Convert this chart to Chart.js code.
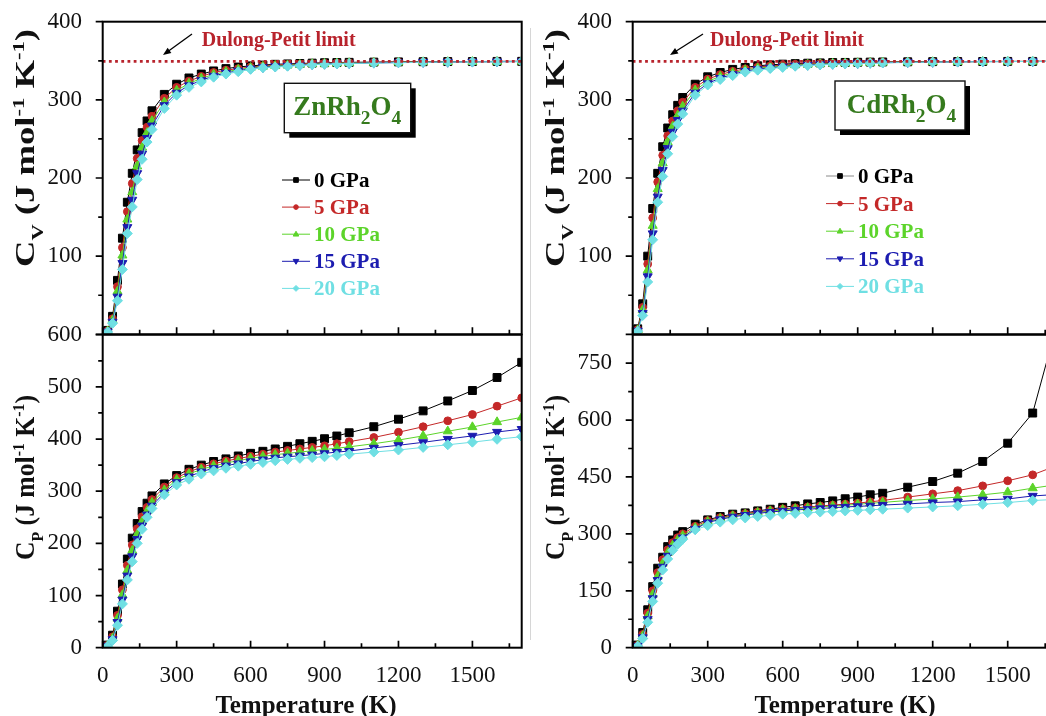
<!DOCTYPE html>
<html>
<head>
<meta charset="utf-8">
<script src="https://cdn.jsdelivr.net/npm/chart.js@4.4.1/dist/chart.umd.min.js"></script>
<style>
  html, body { margin: 0; padding: 0; background: #fff; overflow: hidden; width: 1046px; height: 716px; }
  canvas { position: absolute; }
  #seam { position: absolute; left: 530px; top: 28px; width: 1px; height: 612px; background: #d6d6d6; }
</style>
</head>
<body>
<div id="seam"></div>
<canvas id="cvZn" width="530" height="345" style="left:0;top:0"></canvas>
<canvas id="cpZn" width="530" height="400" style="left:0;top:320px"></canvas>
<canvas id="cvCd" width="540" height="345" style="left:530px;top:0"></canvas>
<canvas id="cpCd" width="540" height="400" style="left:530px;top:320px"></canvas>
<script>
// ---- data -------------------------------------------------------------
const temperatureK = [20, 40, 60, 80, 100, 120, 140, 160, 180, 200, 250, 300, 350, 400, 450, 500,
  550, 600, 650, 700, 750, 800, 850, 900, 950, 1000, 1100, 1200, 1300, 1400, 1500, 1600, 1700];
const pressureLabels = ['0 GPa', '5 GPa', '10 GPa', '15 GPa', '20 GPa'];
const dulongPetitLimit = 349.2;

// ZnRh2O4, heat capacity at constant volume
const cvZn0 = [5, 23, 69, 123, 169, 206, 236, 258, 273, 286, 307, 320, 328, 333, 337, 340, 342, 343.5, 344.5, 345.5, 346, 346.5, 347, 347.5, 347.7, 348, 348.3, 348.6, 348.8, 349, 349, 349.2, 349.3];
const cvZn5 = [4.4, 20, 61, 111, 157, 193, 225, 248, 265, 279, 302, 316, 324, 330, 335, 338, 340, 342, 343.5, 344.5, 345, 345.7, 346.4, 346.9, 347.2, 347.5, 347.9, 348.3, 348.6, 348.8, 348.9, 349.1, 349.2];
const cvZn10 = [3.9, 18, 55, 101, 147, 182, 215, 239, 258, 273, 297, 312, 321, 327.5, 332.6, 336, 338.7, 341, 342.6, 343.6, 344.3, 345.1, 345.9, 346.4, 346.8, 347.2, 347.6, 348, 348.4, 348.6, 348.7, 348.9, 349.1];
const cvZn15 = [3.4, 16, 48, 91, 137, 172, 206, 231, 251, 267, 293, 309, 318.5, 325, 330.6, 334.4, 337.2, 339.9, 341.7, 342.7, 343.6, 344.5, 345.4, 345.9, 346.3, 346.8, 347.3, 347.7, 348.2, 348.4, 348.6, 348.8, 349];
const cvZn20 = [3, 14, 43, 83, 129, 163, 198, 224, 246, 262, 289, 306, 316, 323, 329, 333, 336, 339, 341, 342, 343, 344, 345, 345.5, 346, 346.5, 347, 347.5, 348, 348.3, 348.5, 348.7, 349];

// ZnRh2O4, heat capacity at constant pressure
const cpZn0 = [5, 24, 70, 122, 170, 210, 238, 261, 277, 291, 314, 330, 342, 350, 357, 362, 367.5, 372.6, 376.5, 381, 386, 391, 395.6, 400.6, 405.8, 412, 423.6, 438, 454, 473, 493, 518, 547];
const cpZn5 = [4.4, 21, 62, 111, 158, 197, 228, 251, 269, 284, 308, 326, 337, 346, 352.5, 358, 362.5, 367, 371, 375, 378, 381, 384, 387, 391, 395, 403, 413, 423.6, 435, 447, 463, 479];
const cpZn10 = [3.9, 18, 56, 101, 148, 186, 217, 242, 262, 278, 302, 322, 333, 342, 348.5, 354, 358.5, 363, 366.5, 370, 372.5, 375, 377.5, 380, 382.5, 385, 391, 398, 406, 415, 423, 432.6, 441.6];
const cpZn15 = [3.4, 16, 49, 92, 138, 175, 208, 234, 255, 272, 297, 317, 328, 337.5, 344, 349, 353, 357, 360.5, 364, 366, 368, 370, 372.5, 375, 377, 383, 388, 393.7, 400, 406, 413.5, 419];
const cpZn20 = [3, 14, 43, 84, 130, 165, 200, 227, 250, 267, 293, 312, 323, 333, 339, 344, 348, 351.5, 355, 358.5, 361, 363, 364.5, 366, 368.5, 371, 375, 379, 384, 389, 394, 399.5, 404.5];

// CdRh2O4, heat capacity at constant volume
const cvCd0 = [7, 39, 100, 161, 206, 240, 264, 281, 293, 303, 320, 329.5, 335, 339, 341.5, 343.6, 344.8, 345.7, 346.4, 346.9, 347.3, 347.7, 347.9, 348.1, 348.3, 348.5, 348.7, 348.9, 349, 349.1, 349.2, 349.2, 349.3];
const cvCd5 = [6, 34.5, 90, 149, 195, 229, 254, 273, 286, 297, 316, 326.5, 332.3, 336.6, 339.7, 341.9, 343.4, 344.4, 345.4, 346, 346.5, 347, 347.3, 347.6, 347.9, 348.1, 348.4, 348.7, 348.9, 349, 349.1, 349.2, 349.3];
const cvCd10 = [5.3, 31, 82, 139, 186, 219, 246, 266, 280, 291.5, 312.3, 323.7, 330, 334.6, 338.2, 340.5, 342.2, 343.4, 344.5, 345.3, 345.9, 346.5, 346.9, 347.2, 347.5, 347.8, 348.2, 348.5, 348.7, 348.9, 349.1, 349.1, 349.2];
const cvCd15 = [4.6, 27, 74, 129, 176, 210, 238, 259, 274, 286, 309, 321, 327.8, 332.6, 336.7, 339.1, 341, 342.3, 343.7, 344.6, 345.3, 345.9, 346.4, 346.8, 347.2, 347.5, 348, 348.3, 348.6, 348.9, 349, 349.1, 349.2];
const cvCd20 = [4, 24, 67, 121, 169, 202, 231, 253, 269, 282, 306, 319, 326, 331, 335.5, 338, 340, 341.5, 343, 344, 344.8, 345.5, 346, 346.5, 346.9, 347.3, 347.8, 348.2, 348.5, 348.8, 349, 349.1, 349.2];

// CdRh2O4, heat capacity at constant pressure
const cpCd0 = [7, 40, 100, 161, 209.5, 238.5, 266.5, 284, 297, 306, 325.6, 337, 345.7, 352, 355.4, 360.7, 365, 370, 374, 379, 382.7, 387, 392.6, 397, 403, 407, 423, 438, 460, 491, 539, 618.5, 860];
const cpCd5 = [6, 35, 91, 150, 198, 232, 258, 277, 290, 300, 320, 335, 343, 349, 353.5, 358, 362, 366, 368.5, 371, 373.5, 376, 378.5, 381, 384.5, 388, 397, 405.5, 414, 426.6, 440, 455.7, 481];
const cpCd10 = [5.3, 31, 83, 140, 188, 222, 250, 270, 284, 295, 316, 332, 340, 347, 351.5, 356, 360, 363.5, 366, 368.5, 371, 373.5, 375.5, 378, 380.5, 383, 388, 392, 397, 403, 410, 420.5, 430];
const cpCd15 = [4.6, 27, 75, 130, 178, 213, 242, 263, 278, 290, 313, 330, 338, 345, 349.5, 354, 357.5, 360.5, 363, 365, 367, 369, 371, 372.5, 374, 376, 379, 382.6, 385, 389.7, 392, 400, 404];
const cpCd20 = [4, 24, 67, 122, 170, 205, 234, 257, 273, 286, 311, 322, 331, 337, 342, 346, 349, 352, 354, 356, 357.5, 359, 360.5, 362, 363.5, 365, 368, 371, 374, 378, 382.6, 388, 391];

// axis ticks
const tempMax = 1700;
const xMajorTicks = [0, 300, 600, 900, 1200, 1500];
const xMinorTicks = [150, 450, 750, 1050, 1350, 1650];
const cvMajorTicks = [0, 100, 200, 300, 400];
const cvMinorTicks = [50, 150, 250, 350];
const cpZnMajorTicks = [0, 100, 200, 300, 400, 500, 600];
const cpZnMinorTicks = [50, 150, 250, 350, 450, 550];
const cpCdMajorTicks = [0, 150, 300, 450, 600, 750];
const cpCdMinorTicks = [75, 225, 375, 525, 675];

// ---- styling ----------------------------------------------------------
const SERIF = '"Liberation Serif", "Times New Roman", serif';
const seriesStyles = [
  { color: '#000000', pointStyle: 'rect',     radius: 5.6, rotation: 0,   mark: 'square'  },
  { color: '#c42828', pointStyle: 'circle',   radius: 3.9, rotation: 0,   mark: 'circle'  },
  { color: '#5cd42a', pointStyle: 'triangle', radius: 5.2, rotation: 0,   mark: 'up'      },
  { color: '#1c1cb0', pointStyle: 'triangle', radius: 5.2, rotation: 180, mark: 'down'    },
  { color: '#6fdfe3', pointStyle: 'rectRot',  radius: 5.0, rotation: 0,   mark: 'diamond' }
];
const limitColor = '#b8232c';
const compoundColor = '#357a1d';

function drawMarker(ctx, mark, x, y, s, color) {
  ctx.fillStyle = color; ctx.strokeStyle = color; ctx.lineWidth = 1;
  ctx.beginPath();
  if (mark === 'square') ctx.rect(x - 3 * s, y - 3 * s, 6 * s, 6 * s);
  else if (mark === 'circle') ctx.arc(x, y, 3 * s, 0, Math.PI * 2);
  else if (mark === 'up') { ctx.moveTo(x, y - 3.8 * s); ctx.lineTo(x + 3.6 * s, y + 2.4 * s); ctx.lineTo(x - 3.6 * s, y + 2.4 * s); ctx.closePath(); }
  else if (mark === 'down') { ctx.moveTo(x, y + 3.8 * s); ctx.lineTo(x + 3.6 * s, y - 2.4 * s); ctx.lineTo(x - 3.6 * s, y - 2.4 * s); ctx.closePath(); }
  else { ctx.moveTo(x, y - 3.8 * s); ctx.lineTo(x + 3.8 * s, y); ctx.lineTo(x, y + 3.8 * s); ctx.lineTo(x - 3.8 * s, y); ctx.closePath(); }
  ctx.fill(); ctx.stroke();
}

// text made of runs; k = 'sub' | 'sup' for shifted, smaller runs
function drawRich(ctx, parts, x, y, size, measureOnly, subScale) {
  let cx = x;
  const ss = subScale || 0.62;
  parts.forEach(p => {
    const s = p.k ? size * ss : size;
    ctx.font = 'bold ' + s + 'px ' + SERIF;
    const dy = p.k === 'sub' ? size * 0.32 : (p.k === 'sup' ? -size * 0.36 : 0);
    if (!measureOnly) ctx.fillText(p.t, cx, y + dy);
    cx += ctx.measureText(p.t).width;
  });
  return cx - x;
}

function yTitleParts(sym) {
  return [{ t: 'C' }, { t: sym, k: 'sub' }, { t: ' (J mol' }, { t: '-1', k: 'sup' }, { t: ' K' }, { t: '-1', k: 'sup' }, { t: ')' }];
}

function makeDecor(cfg) {
  return {
    id: 'panelDecor',
    afterDatasetsDraw(chart) {
      const ctx = chart.ctx, a = chart.chartArea, xs = chart.scales.x, ys = chart.scales.y;
      ctx.save();
      // frame
      ctx.strokeStyle = '#000'; ctx.lineWidth = 2;
      ctx.strokeRect(a.left, a.top, a.right - a.left, a.bottom - a.top);
      // ticks: inward on the temperature axis, outward on the value axis
      ctx.lineWidth = 1.7;
      ctx.beginPath();
      const xt = (vals, len) => vals.forEach(v => { const p = xs.getPixelForValue(v); ctx.moveTo(p, a.bottom); ctx.lineTo(p, a.bottom - len); });
      const yt = (vals, len) => vals.forEach(v => { const p = ys.getPixelForValue(v); ctx.moveTo(a.left, p); ctx.lineTo(a.left - len, p); });
      xt(xMajorTicks, 7); xt(xMinorTicks, 4.5);
      yt(cfg.yMajor, 7); yt(cfg.yMinor, 4.5);
      ctx.stroke();

      // value-axis title, rotated
      ctx.fillStyle = '#111';
      ctx.textBaseline = 'alphabetic'; ctx.textAlign = 'left';
      const ts = 27;
      const parts = yTitleParts(cfg.ySym);
      const w = drawRich(ctx, parts, 0, 0, ts, true);
      ctx.save();
      ctx.translate(34, cfg.yTitleY);
      ctx.rotate(-Math.PI / 2);
      ctx.scale(cfg.yTitleLen / w, 1);
      drawRich(ctx, parts, -w / 2, 0, ts, false);
      ctx.restore();

      // temperature-axis title
      if (cfg.xTitle) {
        ctx.font = 'bold 25px ' + SERIF;
        ctx.textAlign = 'center';
        ctx.fillText('Temperature (K)', cfg.xTitleX, 393);
        ctx.textAlign = 'left';
      }

      if (cfg.legend) {
        const L = cfg.legend;
        // Dulong-Petit label and arrow
        ctx.fillStyle = limitColor;
        ctx.font = 'bold 20px ' + SERIF;
        ctx.fillText('Dulong-Petit limit', L.dpX, 46);
        ctx.strokeStyle = '#000'; ctx.fillStyle = '#000'; ctx.lineWidth = 1.3;
        const [x0, y0, x1, y1] = L.arrow;
        const ang = Math.atan2(y1 - y0, x1 - x0);
        ctx.beginPath(); ctx.moveTo(x0, y0); ctx.lineTo(x1 - 6 * Math.cos(ang), y1 - 6 * Math.sin(ang)); ctx.stroke();
        ctx.beginPath();
        ctx.moveTo(x1, y1);
        ctx.lineTo(x1 - 8 * Math.cos(ang) + 3.2 * Math.sin(ang), y1 - 8 * Math.sin(ang) - 3.2 * Math.cos(ang));
        ctx.lineTo(x1 - 8 * Math.cos(ang) - 3.2 * Math.sin(ang), y1 - 8 * Math.sin(ang) + 3.2 * Math.cos(ang));
        ctx.closePath(); ctx.fill();

        // compound box with drop shadow
        const [bx, by, bw, bh] = L.box;
        ctx.fillStyle = '#000';
        ctx.fillRect(bx + 5, by + 5, bw, bh);
        ctx.fillStyle = '#fff';
        ctx.fillRect(bx, by, bw, bh);
        ctx.strokeStyle = '#111'; ctx.lineWidth = 1.4;
        ctx.strokeRect(bx, by, bw, bh);
        ctx.fillStyle = compoundColor;
        drawRich(ctx, [{ t: L.compound[0] }, { t: '2', k: 'sub' }, { t: 'O' }, { t: '4', k: 'sub' }], L.compoundX, by + 32, 27, false, 0.72);

        // series key
        pressureLabels.forEach((lab, i) => {
          const st = seriesStyles[i];
          const ry = L.rowY + i * L.rowStep;
          ctx.strokeStyle = (i === 0 && L.firstLine) ? L.firstLine : st.color;
          ctx.lineWidth = 1;
          ctx.beginPath(); ctx.moveTo(L.symX, ry); ctx.lineTo(L.symX + 28, ry); ctx.stroke();
          drawMarker(ctx, st.mark, L.symX + 14, ry, 0.78, st.color);
          ctx.fillStyle = st.color;
          ctx.font = 'bold 21px ' + SERIF;
          ctx.fillText(lab, L.symX + 32, ry + 7);
        });
      }
      ctx.restore();
    }
  };
}

function seriesSets(arrays, withLimit) {
  const sets = arrays.map((vals, i) => {
    const st = seriesStyles[i];
    return {
      label: pressureLabels[i],
      data: temperatureK.map((t, j) => ({ x: t, y: vals[j] })),
      borderColor: st.color, backgroundColor: st.color,
      borderWidth: 1, tension: 0,
      pointStyle: st.pointStyle, pointRadius: st.radius, pointRotation: st.rotation,
      pointBorderWidth: 1, pointBorderColor: st.color, pointBackgroundColor: st.color,
      order: 4 - i
    };
  });
  if (withLimit) {
    sets.push({
      label: 'Dulong-Petit limit',
      data: [{ x: 0, y: dulongPetitLimit }, { x: tempMax, y: dulongPetitLimit }],
      borderColor: limitColor, borderWidth: 2.8, borderDash: [2.8, 3.4],
      pointRadius: 0, order: -1
    });
  }
  return sets;
}

function makeChart(id, cfg) {
  new Chart(document.getElementById(id), {
    type: 'line',
    data: { datasets: seriesSets(cfg.series, cfg.limit) },
    options: {
      responsive: false, animation: false, events: [],
      layout: { padding: { top: cfg.padTop, right: cfg.padRight, left: 0, bottom: 0 } },
      plugins: { legend: { display: false }, tooltip: { enabled: false } },
      scales: {
        x: {
          type: 'linear', min: 0, max: tempMax,
          grid: { display: false }, border: { display: false },
          afterBuildTicks: s => { s.ticks = xMajorTicks.map(v => ({ value: v })); },
          afterFit: s => { s.height = cfg.xHeight; s.paddingLeft = 0; s.paddingRight = 0; },
          ticks: { display: cfg.xLabels, autoSkip: false, maxRotation: 0, padding: 6,
                   color: '#111', font: { family: SERIF, size: 23 }, callback: v => String(v) }
        },
        y: {
          type: 'linear', min: 0, max: cfg.yMax,
          grid: { display: false }, border: { display: false },
          afterBuildTicks: s => { s.ticks = cfg.decor.yMajor.map(v => ({ value: v })); },
          afterFit: s => { s.width = 102.7; s.paddingTop = 0; s.paddingBottom = 0; },
          ticks: { autoSkip: false, padding: 12.7, color: '#111', font: { family: SERIF, size: 23 },
                   callback: v => (cfg.hideZero && v === 0) ? '' : String(v) }
        }
      }
    },
    plugins: [makeDecor(cfg.decor)]
  });
}

makeChart('cvZn', {
  series: [cvZn0, cvZn5, cvZn10, cvZn15, cvZn20], limit: true,
  padTop: 21.7, padRight: 8.3, xHeight: 10.7, xLabels: false, yMax: 400, hideZero: true,
  decor: { yMajor: cvMajorTicks, yMinor: cvMinorTicks, ySym: 'V', yTitleY: 148, yTitleLen: 238,
    legend: { dpX: 201.7, arrow: [192, 34, 163, 55], box: [284.3, 83.3, 126.4, 49.4], compound: ['ZnRh'],
      compoundX: 293.3, rowY: 180, rowStep: 27.1, symX: 282 } }
});
makeChart('cpZn', {
  series: [cpZn0, cpZn5, cpZn10, cpZn15, cpZn20], limit: false,
  padTop: 14.7, padRight: 8.3, xHeight: 72.3, xLabels: true, yMax: 600, hideZero: false,
  decor: { yMajor: cpZnMajorTicks, yMinor: cpZnMinorTicks, ySym: 'P', yTitleY: 157.5, yTitleLen: 165,
    xTitle: true, xTitleX: 306 }
});
makeChart('cvCd', {
  series: [cvCd0, cvCd5, cvCd10, cvCd15, cvCd20], limit: true,
  padTop: 21.7, padRight: 12.3, xHeight: 10.7, xLabels: false, yMax: 400, hideZero: true,
  decor: { yMajor: cvMajorTicks, yMinor: cvMinorTicks, ySym: 'V', yTitleY: 148, yTitleLen: 238,
    legend: { dpX: 180, arrow: [173, 34, 140, 55], box: [305, 81, 130, 49], compound: ['CdRh'],
      compoundX: 316.7, rowY: 176, rowStep: 27.6, symX: 296, firstLine: '#8a8a8a' } }
});
makeChart('cpCd', {
  series: [cpCd0, cpCd5, cpCd10, cpCd15, cpCd20], limit: false,
  padTop: 14.7, padRight: 12.3, xHeight: 72.3, xLabels: true, yMax: 825, hideZero: false,
  decor: { yMajor: cpCdMajorTicks, yMinor: cpCdMinorTicks, ySym: 'P', yTitleY: 157.5, yTitleLen: 165,
    xTitle: true, xTitleX: 315 }
});
</script>
</body>
</html>
